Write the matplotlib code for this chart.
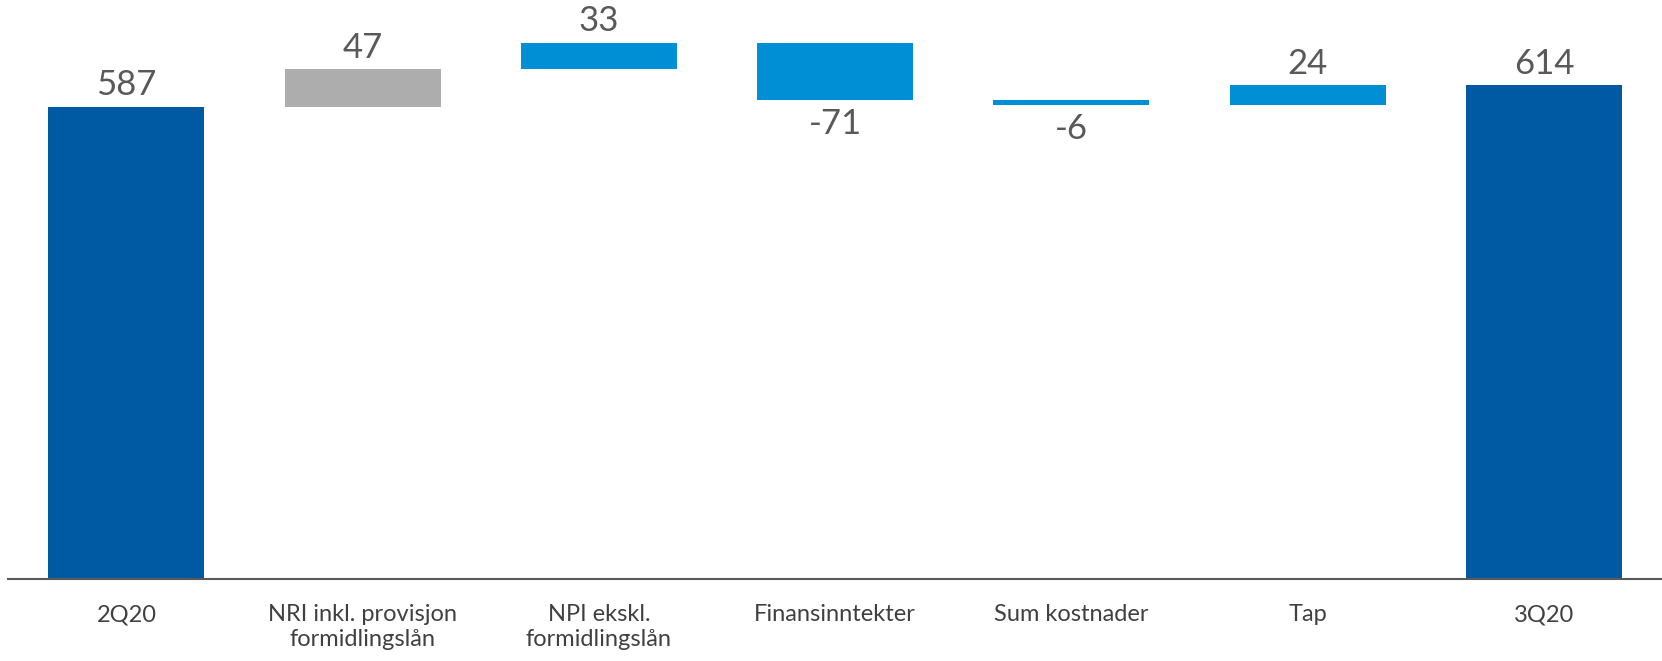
import matplotlib.pyplot as plt

# categories and values for the waterfall
categories = ['2Q20', 'NRI inkl. provisjon\nformidlingslån', 'NPI ekskl.\nformidlingslån',
              'Finansinntekter', 'Sum kostnader', 'Tap', '3Q20']
changes = [587, 47, 33, -71, -6, 24, 614]
is_total = [True, False, False, False, False, False, True]
bar_colors = ['#005AA3', '#ADADAD', '#008FD5', '#008FD5', '#008FD5', '#008FD5', '#005AA3']

plt.rcParams['font.family'] = ['Lato', 'DejaVu Sans']

fig = plt.figure(figsize=(16.62, 6.61), dpi=100)
ax = fig.add_axes([0.005, 0.124, 0.995, 0.876])

# work out bottoms of the floating bars
bottoms = []
heights = []
running = 0
for val, tot in zip(changes, is_total):
    if tot:
        bottoms.append(0)
        heights.append(val)
        running = val
    else:
        if val >= 0:
            bottoms.append(running)
        else:
            bottoms.append(running + val)
        heights.append(abs(val))
        running += val

x = range(len(categories))
ax.bar(x, heights, bottom=bottoms, width=0.66, color=bar_colors, zorder=2)

# value labels
for i, (val, b, h) in enumerate(zip(changes, bottoms, heights)):
    if val >= 0:
        ax.annotate(str(val), (i, b + h), xytext=(0, 4), textcoords='offset points',
                    ha='center', va='bottom', fontsize=25, color='#595959')
    else:
        ax.annotate(str(val), (i, b), xytext=(0, -6), textcoords='offset points',
                    ha='center', va='top', fontsize=25, color='#595959')

ax.set_xlim(-0.5, 6.5)
ax.set_ylim(0, 720)
ax.set_xticks(list(x))
ax.set_xticklabels(categories, fontsize=17, color='#404040', linespacing=1.25)
ax.tick_params(axis='x', length=0, pad=18)
ax.set_yticks([])
for s in ['top', 'right', 'left']:
    ax.spines[s].set_visible(False)
ax.spines['bottom'].set_color('#595959')
ax.spines['bottom'].set_linewidth(1.5)

fig.savefig('out.png', dpi=100)
